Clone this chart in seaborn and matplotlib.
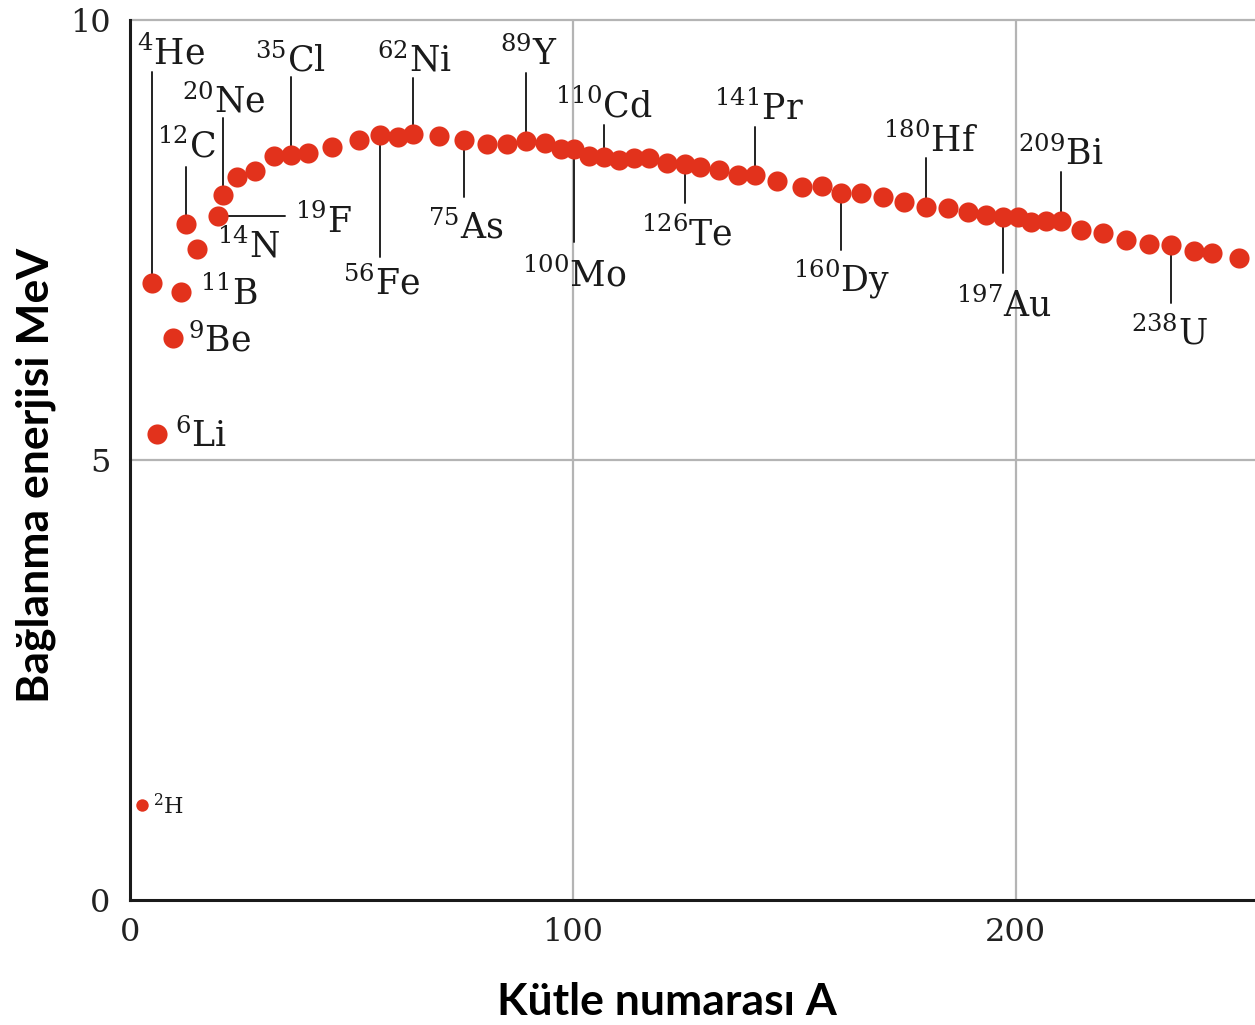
import matplotlib
matplotlib.use("Agg")
import matplotlib.pyplot as plt
import seaborn as sns
import pandas as pd

# ── data ──────────────────────────────────────────────────────────────────────
mass_number = [
    2.7, 5.0, 6.1, 9.7, 11.5, 12.7, 15.1, 19.9, 21.0, 24.1,
    28.2, 32.4, 36.3, 40.3, 45.6, 51.6, 56.5, 60.6, 64.0, 69.7,
    75.3, 80.6, 85.1, 89.3, 93.8, 97.2, 100.2, 103.6, 107.0, 110.4,
    113.7, 117.1, 121.3, 125.4, 128.8, 133.0, 137.2, 141.2, 146.1, 151.8,
    156.3, 160.5, 165.0, 169.9, 174.8, 179.7, 184.6, 189.1, 193.2, 197.0,
    200.4, 203.4, 206.8, 210.2, 214.7, 219.6, 224.9, 230.1, 235.0, 240.3,
    244.4, 250.5,
]
binding_energy = [
    1.08, 7.01, 5.30, 6.39, 6.91, 7.68, 7.40, 7.77, 8.01, 8.22,
    8.28, 8.45, 8.47, 8.49, 8.56, 8.64, 8.69, 8.67, 8.71, 8.68,
    8.64, 8.59, 8.59, 8.62, 8.60, 8.53, 8.53, 8.45, 8.44, 8.41,
    8.43, 8.43, 8.37, 8.36, 8.33, 8.30, 8.24, 8.24, 8.17, 8.10,
    8.11, 8.03, 8.03, 7.99, 7.93, 7.87, 7.86, 7.82, 7.78, 7.76,
    7.76, 7.71, 7.72, 7.72, 7.61, 7.58, 7.50, 7.45, 7.44, 7.37,
    7.35, 7.29,
]
isotope = [
    "2H", "4He", "6Li", "9Be", "11B", "12C", "14N", "19F", "20Ne", "",
    "", "", "35Cl", "", "", "", "56Fe", "", "62Ni", "",
    "75As", "", "", "89Y", "", "", "100Mo", "", "110Cd", "",
    "", "", "", "126Te", "", "", "", "141Pr", "", "",
    "", "160Dy", "", "", "", "180Hf", "", "", "", "197Au",
    "", "", "", "209Bi", "", "", "", "", "238U", "",
    "", "",
]

x_ticks = [0, 100, 200]
y_ticks = [0, 5, 10]

# ── label layout: text (x, y) and end of leader line ("v" = vertical to y,
#    "h" = horizontal to x, None = no line) ───────────────────────────────────
LAYOUT = {
    "2H":    (5.2, 0.97, None),
    "4He":   (1.6, 9.49, ("v", 9.41)),
    "6Li":   (10.2, 5.15, None),
    "9Be":   (13.1, 6.23, None),
    "11B":   (15.8, 6.76, None),
    "12C":   (6.1, 8.44, ("v", 8.33)),
    "14N":   (19.7, 7.30, None),
    "19F":   (37.3, 7.58, ("h", 35.0)),
    "20Ne":  (11.8, 8.95, ("v", 8.89)),
    "35Cl":  (28.2, 9.41, ("v", 9.35)),
    "56Fe":  (48.1, 6.88, ("v", 7.31)),
    "62Ni":  (55.8, 9.41, ("v", 9.34)),
    "75As":  (67.3, 7.52, ("v", 7.99)),
    "89Y":   (83.6, 9.49, ("v", 9.40)),
    "100Mo": (88.6, 6.97, ("v", 7.48)),
    "110Cd": (96.0, 8.89, ("v", 8.81)),
    "126Te": (115.3, 7.44, ("v", 7.92)),
    "141Pr": (131.8, 8.86, ("v", 8.78)),
    "160Dy": (149.8, 6.91, ("v", 7.39)),
    "180Hf": (169.9, 8.50, ("v", 8.43)),
    "197Au": (186.4, 6.63, ("v", 7.13)),
    "209Bi": (200.5, 8.35, ("v", 8.27)),
    "238U":  (226.0, 6.31, ("v", 6.78)),
}

DOT = "#e2321c"

sns.set_style("white")
plt.rcParams["mathtext.fontset"] = "dejavuserif"
plt.rcParams["font.family"] = ["DejaVu Serif"]

df = pd.DataFrame({"A": mass_number, "B": binding_energy, "iso": isotope})

fig = plt.figure(figsize=(12.55, 10.25), dpi=100)
ax = fig.add_axes([130 / 1255, 125 / 1025, 1125 / 1255, 880 / 1025])

# grid
for gx in (100, 200):
    ax.axvline(gx, color="#b4b4b4", lw=1.6, zorder=0)
for gy in (5, 10):
    ax.axhline(gy, color="#b4b4b4", lw=1.6, zorder=0, clip_on=False)

# leader lines
split = dict(zip(df["iso"], zip(df["A"], df["B"])))
for name, (tx, ty, line) in LAYOUT.items():
    dx, dy = split[name]
    if line is not None:
        kind, end = line
        if kind == "v":
            ax.plot([dx, dx], [dy, end], color="#222222", lw=1.4, zorder=1)
        else:
            ax.plot([dx, end], [dy, dy], color="#222222", lw=1.4, zorder=1)

# dots
main = df[df["iso"] != "2H"]
deut = df[df["iso"] == "2H"]
sns.scatterplot(data=main, x="A", y="B", s=210, color=DOT, linewidth=0,
                ax=ax, zorder=3, legend=False)
sns.scatterplot(data=deut, x="A", y="B", s=80, color=DOT, linewidth=0,
                ax=ax, zorder=3, legend=False)

# labels
for name, (tx, ty, line) in LAYOUT.items():
    digits = "".join(c for c in name if c.isdigit())
    elem = name[len(digits):]
    size = 16 if name == "2H" else 25
    ax.text(tx, ty, rf"$^{{{digits}}}$" + elem, fontsize=size,
            color="#1a1a1a", ha="left", va="baseline", zorder=4)

ax.set_xlim(0, 254)
ax.set_ylim(0, 10)
ax.set_xticks(x_ticks)
ax.set_yticks(y_ticks)
ax.tick_params(axis="both", length=0, labelsize=23, labelcolor="#222222")
ax.tick_params(axis="x", pad=12)
ax.tick_params(axis="y", pad=14)
ax.set_xlabel("")
ax.set_ylabel("")

for side in ("top", "right"):
    ax.spines[side].set_visible(False)
for side in ("left", "bottom"):
    ax.spines[side].set_color("#1a1a1a")
    ax.spines[side].set_linewidth(2.2)

fig.text(667 / 1255, 1 - 1002 / 1025, "Kütle numarası A", fontsize=32,
         fontweight="bold", family="Lato", color="black",
         ha="center", va="center")
fig.text(36 / 1255, 1 - 475 / 1025, "Bağlanma enerjisi MeV", fontsize=32,
         fontweight="bold", family="Lato", color="black",
         ha="center", va="center", rotation=90)

fig.savefig("out.png", dpi=100)
